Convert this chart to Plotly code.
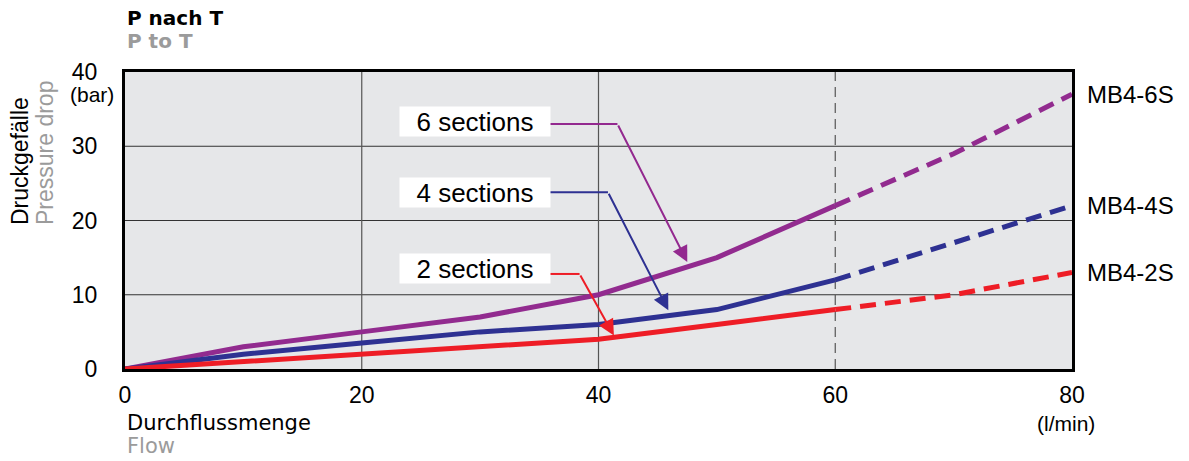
import plotly.graph_objects as go

# flow in l/min, pressure drop in bar
flow = [0, 10, 20, 30, 40, 50, 60, 70, 80]
drop_6s = [0, 3, 5, 7, 10, 15, 22, 29, 37]
drop_4s = [0, 2, 3.5, 5, 6, 8, 12, 17, 22]
drop_2s = [0, 1, 2, 3, 4, 6, 8, 10, 13]

series_names = ["MB4-6S", "MB4-4S", "MB4-2S"]
section_labels = ["6 sections", "4 sections", "2 sections"]
x_ticks = [0, 20, 40, 60, 80]
y_ticks = [0, 10, 20, 30, 40]

PURPLE = "#922B8F"
NAVY = "#2E3192"
RED = "#EE1D26"
ARIAL = "Liberation Sans, Arial"
TICK_FONT = dict(family=ARIAL, size=23, color="black")

fig = go.Figure()

# solid up to 60 l/min, dashed beyond (index 6 is 60)
split = 6
for ys, name, color in zip([drop_6s, drop_4s, drop_2s], series_names, [PURPLE, NAVY, RED]):
    fig.add_trace(go.Scatter(x=flow[:split + 1], y=ys[:split + 1], mode="lines",
                             line=dict(color=color, width=5), name=name,
                             showlegend=False, hoverinfo="skip"))
    fig.add_trace(go.Scatter(x=flow[split:], y=ys[split:], mode="lines",
                             line=dict(color=color, width=5, dash="16px,9px"),
                             name=name, showlegend=False, hoverinfo="skip"))
    # series label on the right
    fig.add_annotation(x=flow[-1], y=ys[-1], xref="x", yref="y", text=name,
                       showarrow=False, xanchor="left", xshift=13,
                       font=dict(family=ARIAL, size=24, color="black"))

# grid lines drawn as shapes so 60 can be dashed
for yv in [10, 20, 30]:
    fig.add_shape(type="line", x0=0, x1=80, y0=yv, y1=yv, xref="x", yref="y",
                  line=dict(color="#333333", width=1), layer="below")
for xv in [20, 40]:
    fig.add_shape(type="line", x0=xv, x1=xv, y0=0, y1=40, xref="x", yref="y",
                  line=dict(color="#555555", width=1.2), layer="below")
fig.add_shape(type="line", x0=60, x1=60, y0=0, y1=40, xref="x", yref="y",
              line=dict(color="#555555", width=1.2, dash="10px,6px"), layer="below")

# section call-outs: label centre, elbow, arrow tip
label_pos = [(29.6, 33.4), (29.6, 23.8), (29.6, 13.5)]
elbows = [(35.9, 41.6, 33.0), (35.9, 40.8, 23.8), (35.9, 38.4, 12.8)]
tips = [(47.5, 14.4), (45.9, 7.9), (41.3, 4.5)]
arrow_colors = ["#93298F", "#2E3192", RED]
for lab, (lx, ly), (ex0, ex1, ey), (tx, ty), c in zip(section_labels, label_pos, elbows, tips, arrow_colors):
    fig.add_annotation(x=lx, y=ly, xref="x", yref="y", text=lab, showarrow=False,
                       bgcolor="white", width=148, height=27, borderpad=1,
                       font=dict(family=ARIAL, size=26, color="black"))
    fig.add_shape(type="line", x0=ex0, x1=ex1, y0=ey, y1=ey, xref="x", yref="y",
                  line=dict(color=c, width=2))
    fig.add_annotation(x=tx, y=ty, ax=ex1, ay=ey, xref="x", yref="y", axref="x", ayref="y",
                       text="", showarrow=True, arrowhead=2, arrowsize=1.6, arrowwidth=2,
                       arrowcolor=c, standoff=0, startstandoff=0)

# titles and units
fig.add_annotation(x=0, y=1, xref="paper", yref="paper", text="<b>P nach T</b>",
                   showarrow=False, xanchor="left", yanchor="middle", yshift=54,
                   font=dict(family="DejaVu Sans", size=20, color="black"))
fig.add_annotation(x=0, y=1, xref="paper", yref="paper", text="<b>P to T</b>",
                   showarrow=False, xanchor="left", yanchor="middle", yshift=31,
                   font=dict(family="DejaVu Sans", size=20, color="#9B9B9B"))
fig.add_annotation(x=0, y=0, xref="paper", yref="paper", text="Durchflussmenge",
                   showarrow=False, xanchor="left", yanchor="middle", yshift=-54,
                   font=dict(family="DejaVu Sans", size=21, color="black"))
fig.add_annotation(x=0, y=0, xref="paper", yref="paper", text="Flow",
                   showarrow=False, xanchor="left", yanchor="middle", yshift=-77,
                   font=dict(family="DejaVu Sans", size=21, color="#9B9B9B"))
fig.add_annotation(x=0, y=0.478, xref="paper", yref="paper", text="Druckgefälle",
                   showarrow=False, textangle=-90, xanchor="center", yanchor="bottom",
                   xshift=-105, font=dict(family=ARIAL, size=23, color="black"))
fig.add_annotation(x=0, y=0.478, xref="paper", yref="paper", text="Pressure drop",
                   showarrow=False, textangle=-90, xanchor="center", yanchor="bottom",
                   xshift=-80, font=dict(family=ARIAL, size=23, color="#9B9B9B"))
fig.add_annotation(x=0, y=1, xref="paper", yref="paper", text="(bar)",
                   showarrow=False, xanchor="center", yanchor="middle", xshift=-33, yshift=-22,
                   font=dict(family=ARIAL, size=21, color="black"))
fig.add_annotation(x=1, y=0, xref="paper", yref="paper", text="(l/min)",
                   showarrow=False, xanchor="center", yanchor="middle", xshift=-6, yshift=-54,
                   font=dict(family=ARIAL, size=21, color="black"))

fig.update_xaxes(range=[0, 80], tickvals=x_ticks, showgrid=False, zeroline=False,
                 showline=True, linecolor="black", linewidth=3, mirror=True,
                 ticks="", ticklabelstandoff=3, tickfont=TICK_FONT)
fig.update_yaxes(range=[0, 40], tickvals=y_ticks, showgrid=False, zeroline=False,
                 showline=True, linecolor="black", linewidth=3, mirror=True,
                 ticks="", ticklabelstandoff=20, tickfont=TICK_FONT)

fig.update_layout(
    width=1189, height=461,
    margin=dict(l=125, r=117, t=72, b=92),
    paper_bgcolor="white",
    plot_bgcolor="#E6E7E9",
)

# drop the page's default body margin so the figure sits at the window origin
fig.write_html("out.html", config={"displayModeBar": False},
               post_script="document.body.style.margin='0';")
